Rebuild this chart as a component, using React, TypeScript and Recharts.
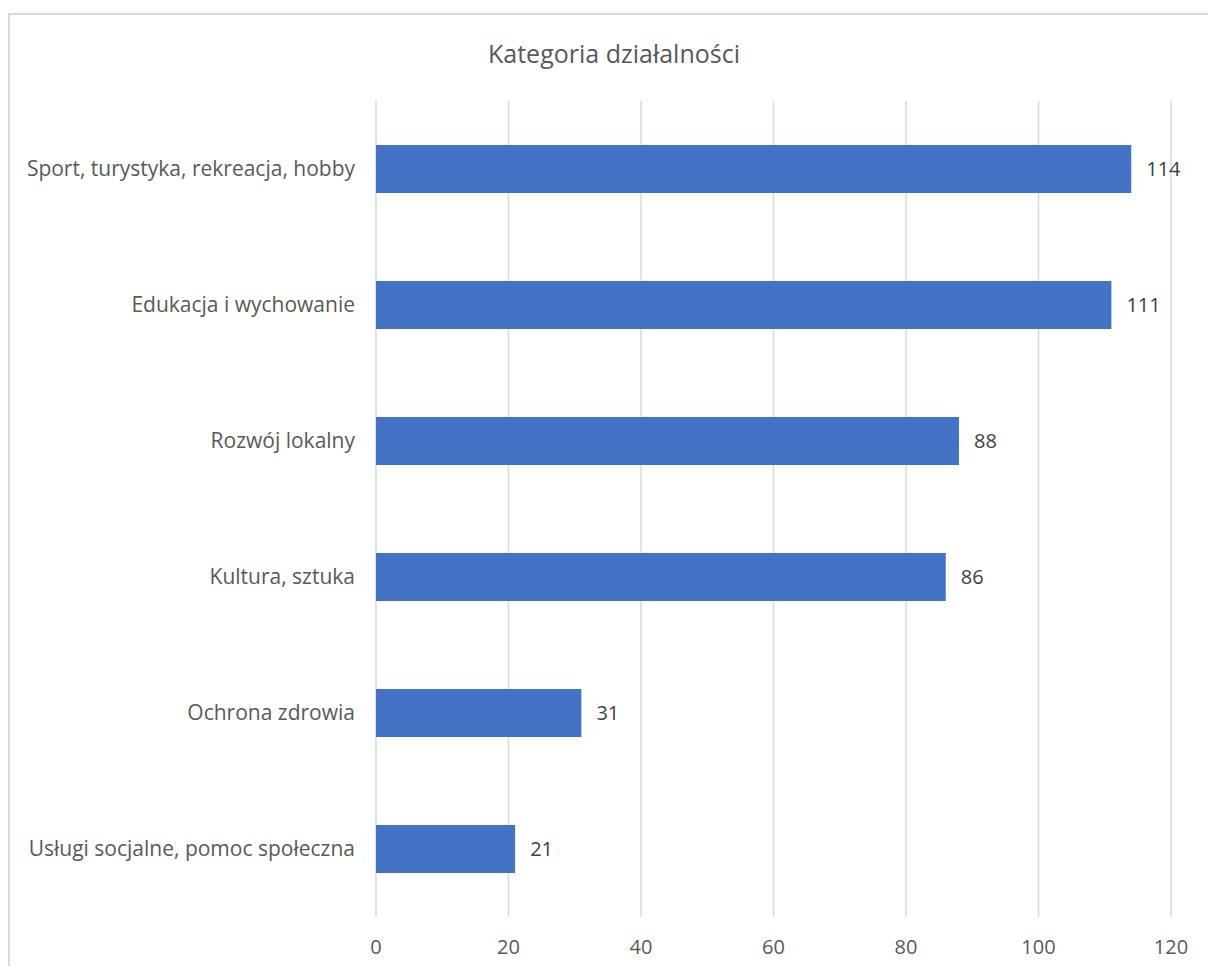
import React from "react"
import { BarChart, Bar, XAxis, YAxis, CartesianGrid, LabelList } from "recharts"

const categories = [
  "Sport, turystyka, rekreacja, hobby",
  "Edukacja i wychowanie",
  "Rozwój lokalny",
  "Kultura, sztuka",
  "Ochrona zdrowia",
  "Usługi socjalne, pomoc społeczna",
]
const counts = [114, 111, 88, 86, 31, 21]
const xTicks = [0, 20, 40, 60, 80, 100, 120]

const data = categories.map((name, i) => ({ name, value: counts[i] }))

const FONT = "'Open Sans', Lato, sans-serif"

export default function App() {
  return (
    <div style={{ position: "absolute", left: 0, top: 0, width: 1208, height: 966, overflow: "hidden", background: "#fff", fontFamily: FONT }}>
      {/* chart frame, runs past the right/bottom edge */}
      <div
        style={{
          position: "absolute",
          left: 8,
          top: 13,
          width: 1240,
          height: 1000,
          border: "2px solid #d9d9d9",
          boxSizing: "border-box",
        }}
      />
      <div
        style={{
          position: "absolute",
          left: 0,
          width: 1228,
          top: 36,
          textAlign: "center",
          fontSize: 25,
          color: "#595959",
        }}
      >
        Kategoria działalności
      </div>
      <div style={{ position: "absolute", left: 0, top: 0 }}>
        <BarChart
          width={1208}
          height={966}
          data={data}
          layout="vertical"
          margin={{ top: 101, right: 37, bottom: 0, left: 0 }}
        >
          <CartesianGrid horizontal={false} stroke="#d9d9d9" strokeWidth={1.5} />
          <XAxis
            type="number"
            domain={[0, 120]}
            ticks={xTicks}
            axisLine={false}
            tickLine={false}
            height={49}
            tickMargin={17}
            tick={{ fill: "#595959", fontSize: 20, fontFamily: FONT }}
          />
          <YAxis
            type="category"
            dataKey="name"
            width={376}
            axisLine={false}
            tickLine={false}
            tickMargin={15}
            tick={{ fill: "#595959", fontSize: 21, fontFamily: FONT }}
          />
          <Bar dataKey="value" fill="#4472c4" barSize={48} isAnimationActive={false}>
            <LabelList
              dataKey="value"
              position="right"
              offset={15}
              fill="#404040"
              fontSize={20}
              fontFamily={FONT}
            />
          </Bar>
        </BarChart>
      </div>
    </div>
  )
}
